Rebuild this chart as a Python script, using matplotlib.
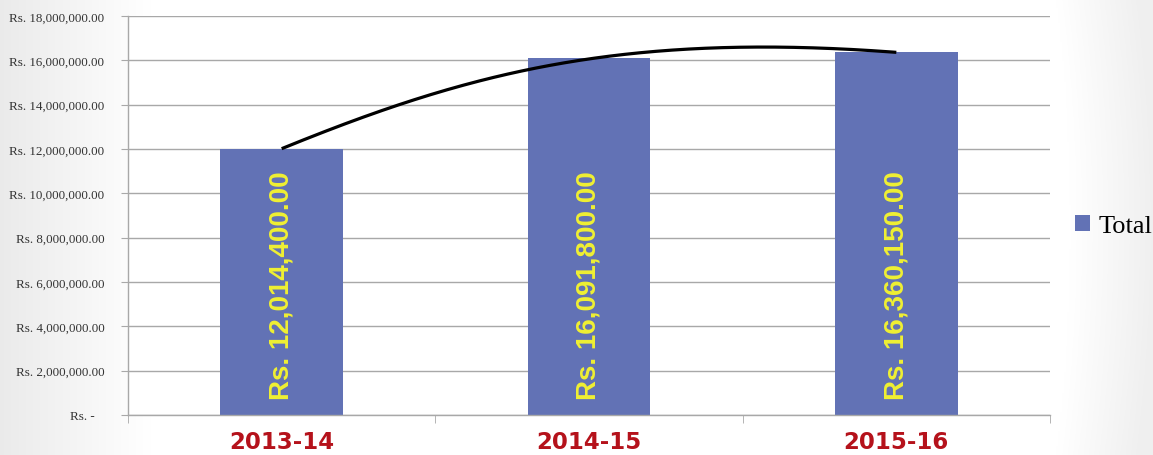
import matplotlib
matplotlib.use("Agg")
import matplotlib.pyplot as plt
import numpy as np
from matplotlib.ticker import FuncFormatter, MultipleLocator

categories = ["2013-14", "2014-15", "2015-16"]
totals = [12014400.00, 16091800.00, 16360150.00]
value_labels = ["Rs. 12,014,400.00", "Rs. 16,091,800.00", "Rs. 16,360,150.00"]
series_name = "Total"

W, H = 1153, 456
fig = plt.figure(figsize=(W / 100, H / 100), dpi=100)

# subtle slide-style background gradient
bg = fig.add_axes([0, 0, 1, 1], zorder=-10)
xx = np.linspace(0, 1, 600)
yy = np.linspace(0, 1, 240)
X, Y = np.meshgrid(xx, yy)
left = np.clip((0.13 - X) / 0.13, 0, 1) * 0.08
right_edge = 0.93 - 0.05 * (Y - 0.5) ** 2
right = np.clip((X - right_edge) / 0.07, 0, 1) * 0.06
shade = 1 - np.maximum(left, right)
bg.imshow(np.dstack([shade, shade, shade]), extent=[0, 1, 0, 1], aspect="auto", origin="lower")
bg.axis("off")

ax = fig.add_axes([128 / W, (H - 416) / H, (1050 - 128) / W, (416 - 17) / H])
ax.set_facecolor("white")

x = np.arange(len(categories))
bars = ax.bar(x, totals, width=0.4, color="#6272B5", zorder=2, label=series_name)

ax.set_xlim(-0.5, len(categories) - 0.5)
ax.set_ylim(0, 18000000)
ax.yaxis.set_major_locator(MultipleLocator(2000000))


def fmt(v, pos):
    if abs(v) < 1:
        return "Rs. -   "
    return f"Rs. {v:,.2f}"


ax.yaxis.set_major_formatter(FuncFormatter(fmt))
ax.grid(axis="y", color="#A8A8A8", linewidth=1.0, zorder=0)
ax.set_axisbelow(True)

for s in ["top", "right"]:
    ax.spines[s].set_visible(False)
ax.spines["left"].set_color("#A8A8A8")
ax.spines["bottom"].set_color("#A8A8A8")
ax.spines["left"].set_linewidth(1.0)
ax.spines["bottom"].set_linewidth(1.0)

ax.tick_params(axis="y", length=5, color="#A8A8A8", pad=12)
for lab in ax.get_yticklabels():
    lab.set_fontfamily("Liberation Serif")
    lab.set_fontsize(9.4)
    lab.set_color("#333333")

ax.set_xticks(x)
ax.set_xticklabels(categories, fontfamily="DejaVu Sans", fontweight="bold",
                   fontsize=16.5, color="#B5121B")
ax.tick_params(axis="x", length=0, pad=11)
# minor ticks at category boundaries
ax.set_xticks(np.arange(-0.5, len(categories)), minor=True)
ax.tick_params(axis="x", which="minor", length=6, color="#A8A8A8", direction="out")

# value labels inside bars
for xi, lab in zip(x, value_labels):
    ax.text(xi, 720000, lab, rotation=90, ha="center", va="bottom",
            fontfamily="Liberation Sans", fontweight="bold", fontsize=20,
            color="#F0F032", zorder=4)

# hand-drawn trend curve over the bar tops (cubic Bezier)
p0 = np.array([x[0], totals[0]])
p3 = np.array([x[-1], totals[-1]])
p1 = p0 + 0.6 * np.array([1.0, 5.65e6])
p2 = p3 - 0.9 * np.array([1.0, -1.04e6])
t = np.linspace(0, 1, 200)[:, None]
curve = ((1 - t) ** 3) * p0 + 3 * t * (1 - t) ** 2 * p1 + 3 * t ** 2 * (1 - t) * p2 + t ** 3 * p3
ax.plot(curve[:, 0], curve[:, 1], color="black", linewidth=2.3, zorder=5,
        solid_capstyle="butt", clip_on=False)

leg = fig.legend(handles=[bars], labels=[series_name], loc="center left",
                 bbox_to_anchor=(1075 / W, (H - 227) / H), frameon=False,
                 prop={"family": "Liberation Serif", "size": 19},
                 handlelength=0.55, handleheight=0.55, handletextpad=0.35,
                 borderaxespad=0, borderpad=0)

fig.savefig("out.png", dpi=100)
